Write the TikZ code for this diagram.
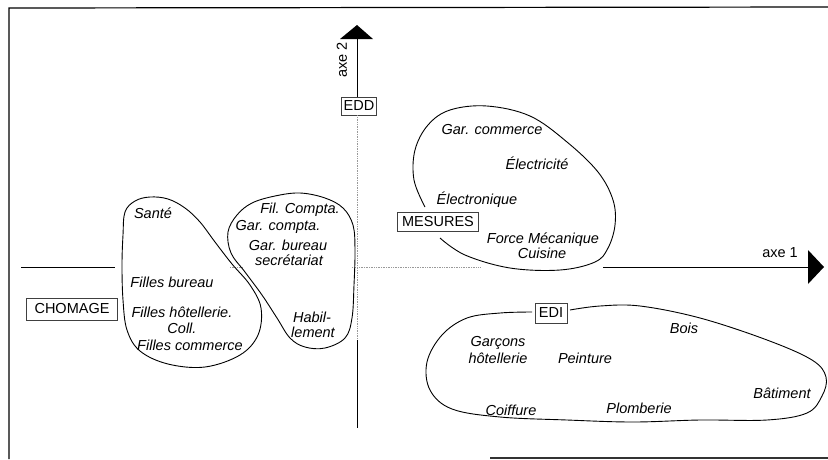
\documentclass[tikz,border=0pt]{standalone}
\usepackage{fontspec}
\setmainfont{Liberation Sans}
\begin{document}
\begin{tikzpicture}[x=1pt,y=-1pt,
  lbl/.style={font=\fontsize{14.5}{15}\selectfont\itshape, inner sep=0pt, anchor=center},
  tag/.style={draw=black!75, line width=0.6pt, font=\fontsize{14.5}{15}\selectfont, inner sep=0pt, anchor=center},
  blob/.style={line width=0.9pt, black},
  axis/.style={line width=1pt, black},
  faint/.style={line width=0.7pt, black!40},
  frame/.style={line width=1.2pt, black}]
\useasboundingbox (0,0) rectangle (828,459);
% frame
\coordinate (f1) at (9,8);
\coordinate (f2) at (828,7);
\coordinate (f3) at (9,459);
\coordinate (f4) at (490,458);
\coordinate (f5) at (828,458);
\draw[frame] (f2) -- (f1) -- (f3);
\draw[frame, black!80] (f4) -- (f5);

% boxes
\node[tag, minimum width=35pt, minimum height=18pt] (edd) at (359,106) {EDD};
\node[tag, minimum width=91pt, minimum height=22pt] (chomage) at (72,309) {CHOMAGE};
\node[tag, minimum width=81pt, minimum height=19pt] (mesures) at (438,222) {MESURES};
\node[tag, minimum width=32pt, minimum height=20pt] (edi) at (551,313) {EDI};

% vertical axis
\coordinate (vtop) at (357,39);
\coordinate (vmid) at (357,340);
\coordinate (vbot) at (357,428);
\fill[black] (340,39) -- (373,39) -- (357,25) -- cycle;
\draw[axis] (vtop) -- (edd.north -| vtop);
\draw[faint, densely dotted] (edd.south -| vtop) -- (vmid);
\draw[axis] (vmid) -- (vbot);
\node[lbl, font=\fontsize{14.5}{15}\selectfont, rotate=90] (axe2) at (342,60) {axe 2};

% horizontal axis
\coordinate (h1) at (21,267);
\coordinate (h2) at (115,267);
\coordinate (h3) at (230,267);
\coordinate (h4) at (242,267);
\coordinate (h5) at (352,267);
\coordinate (h6) at (480,267);
\coordinate (h7) at (603,267);
\coordinate (h8) at (808,267);
\draw[axis] (h1) -- (h2);
\draw[faint, densely dotted] (h3) -- (h4);
\draw[faint, densely dotted] (h5) -- (h6);
\draw[axis] (h7) -- (h8);
\fill[black] (808,250) -- (824,267) -- (808,284) -- cycle;
\node[lbl, font=\fontsize{14.5}{15}\selectfont] (axe1) at (780,253) {axe 1};

% blob 1
\draw[blob] plot[smooth cycle, tension=0.6] coordinates {
 (125,212) (135,201) (150,197) (168,199) (185,208) (200,222) (215,242)
 (232,264) (250,285) (261,308) (258,335) (240,355) (205,367) (168,364)
 (140,351) (127,330) (123,300) (122,265) (123,235)};
% blob 2
\draw[blob] plot[smooth cycle, tension=0.6] coordinates {
 (228,232) (237,215) (252,203) (275,196) (300,193) (325,198) (343,208)
 (353,225) (355,250) (354,285) (352,318) (345,338) (325,348) (305,347)
 (290,338) (277,318) (262,295) (245,272) (231,253)};
% blob 3 (MESURES)
\draw[blob] plot[smooth, tension=0.6] coordinates {
 (425,207) (414,180) (415,150) (428,125) (450,110) (487,106) (530,116)
 (567,142) (598,172) (613,200) (615,225) (608,248) (595,262) (560,270)
 (510,268) (465,255) (440,238)};
% blob 4 (EDI)
\draw[blob] plot[smooth, tension=0.6] coordinates {
 (570,310) (600,306) (640,306) (700,318) (767,340) (812,360) (826,377)
 (822,396) (807,413) (767,420) (700,420) (633,422) (567,420) (500,417)
 (452,409) (430,390) (427,362) (442,335) (467,318) (500,313) (532,312)};

% labels
\node[lbl] (sante) at (153,213) {Santé};
\node[lbl] (filcompta) at (300,210) {Fil. Compta.};
\node[lbl] (garcompta) at (278,227) {Gar. compta.};
\node[lbl] (garbureau) at (288,245) {Gar. bureau};
\node[lbl] (secret) at (289,260) {secrétariat};
\node[lbl] (fbureau) at (172,282) {Filles bureau};
\node[lbl] (fhotel) at (182,312) {Filles hôtellerie.};
\node[lbl] (coll) at (182,328) {Coll.};
\node[lbl] (fcomm) at (190,345) {Filles commerce};
\node[lbl] (habil) at (312,317) {Habil-};
\node[lbl] (lement) at (313,332) {lement};
\node[lbl] (garcomm) at (492,130) {Gar. commerce};
\node[lbl] (electricite) at (537,163) {Électricité};
\node[lbl] (electronique) at (477,200) {Électronique};
\node[lbl] (force) at (543,240) {Force Mécanique};
\node[lbl] (cuisine) at (542,253) {Cuisine};
\node[lbl] (bois) at (684,328) {Bois};
\node[lbl] (garcons) at (498,343) {Garçons};
\node[lbl] (hotellerie) at (498,358) {hôtellerie};
\node[lbl] (peinture) at (585,358) {Peinture};
\node[lbl] (batiment) at (782,393) {Bâtiment};
\node[lbl] (coiffure) at (511,410) {Coiffure};
\node[lbl] (plomberie) at (639,408) {Plomberie};
\end{tikzpicture}
\end{document}
